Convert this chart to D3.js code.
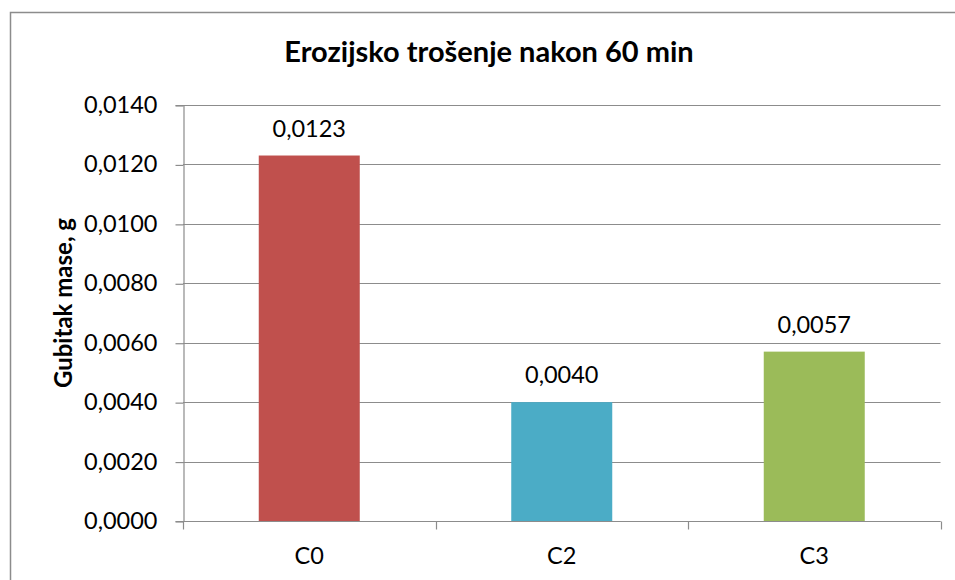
<!DOCTYPE html>
<html>
<head>
<meta charset="utf-8">
<script src="https://cdn.jsdelivr.net/npm/d3@7"></script>
<style>
  html, body { margin: 0; padding: 0; background: #fff; }
  svg { display: block; font-family: Lato, "Open Sans", sans-serif; }
</style>
</head>
<body>
<svg id="chart" width="955" height="580"></svg>
<script>
// Mass loss after 60 minutes of erosive wear, per sample
const categories = ["C0", "C2", "C3"];
const values = [0.0123, 0.0040, 0.0057];
const barColors = ["#C0504D", "#4BACC6", "#9BBB59"];
const yTicks = [0, 0.002, 0.004, 0.006, 0.008, 0.010, 0.012, 0.014];

const title = "Erozijsko trošenje nakon 60 min";
const yTitle = "Gubitak mase, g";

const svg = d3.select("#chart");
const W = 955, H = 580;

// Outer chart frame
svg.append("rect")
  .attr("x", 10.5).attr("y", 12.5)
  .attr("width", W + 10).attr("height", H + 10)
  .attr("fill", "#fff").attr("stroke", "#8c8c8c").attr("stroke-width", 1.5);

const plot = { left: 183, right: 940.5, top: 105, bottom: 521 };

const x = d3.scaleBand()
  .domain(categories)
  .range([plot.left, plot.right])
  .paddingInner(0.6).paddingOuter(0.3);

const y = d3.scaleLinear()
  .domain([0, 0.014])
  .range([plot.bottom, plot.top]);

const fmt = v => d3.format(".4f")(v).replace(".", ",");

// Horizontal gridlines
svg.append("g")
  .selectAll("line")
  .data(yTicks)
  .join("line")
  .attr("x1", plot.left).attr("x2", plot.right)
  .attr("y1", d => Math.round(y(d)) + 0.5).attr("y2", d => Math.round(y(d)) + 0.5)
  .attr("stroke", "#8c8c8c").attr("stroke-width", 1.2);

// Y axis
const yAxis = svg.append("g")
  .attr("transform", `translate(${plot.left + 0.5},0)`)
  .call(d3.axisLeft(y).tickValues(yTicks).tickFormat(fmt).tickSize(8).tickPadding(18));
yAxis.select(".domain").attr("stroke", "#8c8c8c").attr("stroke-width", 1.2);
yAxis.selectAll(".tick line").attr("stroke", "#8c8c8c").attr("stroke-width", 1.2)
  .attr("transform", "translate(0,0.5)");
yAxis.selectAll(".tick text")
  .attr("font-size", 23.5).attr("fill", "#000").attr("font-family", "Lato, sans-serif");

// X axis with boundary ticks between categories
const xAxis = svg.append("g")
  .attr("transform", `translate(0,${plot.bottom + 0.5})`);
xAxis.append("line")
  .attr("x1", plot.left).attr("x2", plot.right)
  .attr("stroke", "#8c8c8c").attr("stroke-width", 1.2);
const step = (plot.right - plot.left) / categories.length;
const bounds = d3.range(categories.length + 1).map(i => plot.left + i * step);
xAxis.selectAll("line.tk")
  .data(bounds)
  .join("line").attr("class", "tk")
  .attr("x1", d => Math.round(d) + 0.5).attr("x2", d => Math.round(d) + 0.5)
  .attr("y1", 0).attr("y2", 8)
  .attr("stroke", "#8c8c8c").attr("stroke-width", 1.2);
xAxis.selectAll("text")
  .data(categories)
  .join("text")
  .attr("x", d => x(d) + x.bandwidth() / 2)
  .attr("y", 42.5)
  .attr("text-anchor", "middle")
  .attr("font-size", 23.5)
  .text(d => d);

// Bars
svg.append("g")
  .selectAll("rect")
  .data(values)
  .join("rect")
  .attr("x", (d, i) => x(categories[i]))
  .attr("y", d => y(d))
  .attr("width", x.bandwidth())
  .attr("height", d => y(0) - y(d))
  .attr("fill", (d, i) => barColors[i]);

// Value labels
svg.append("g")
  .selectAll("text")
  .data(values)
  .join("text")
  .attr("x", (d, i) => x(categories[i]) + x.bandwidth() / 2)
  .attr("y", d => y(d) - 19)
  .attr("text-anchor", "middle")
  .attr("font-size", 23.5)
  .text(d => fmt(d));

// Title
svg.append("text")
  .attr("x", 489).attr("y", 62)
  .attr("text-anchor", "middle")
  .attr("font-size", 29).attr("font-weight", "bold")
  .text(title);

// Y axis title
svg.append("text")
  .attr("transform", `translate(72,303) rotate(-90)`)
  .attr("text-anchor", "middle")
  .attr("font-size", 24).attr("font-weight", "bold")
  .text(yTitle);
</script>
</body>
</html>
